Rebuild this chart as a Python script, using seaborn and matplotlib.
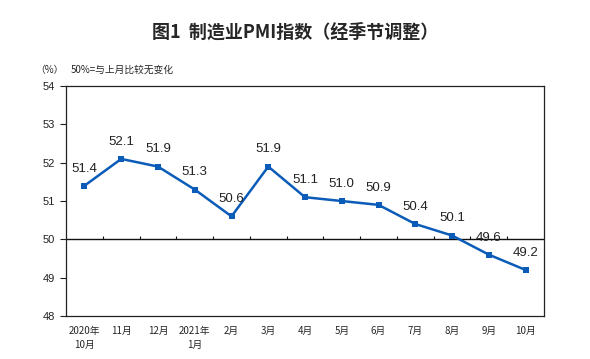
import pandas as pd
import matplotlib.pyplot as plt
import seaborn as sns

# PMI data (seasonally adjusted)
months = ['2020年\n10月', '11月', '12月', '2021年\n1月', '2月', '3月', '4月',
          '5月', '6月', '7月', '8月', '9月', '10月']
pmi = [51.4, 52.1, 51.9, 51.3, 50.6, 51.9, 51.1, 51.0, 50.9, 50.4, 50.1, 49.6, 49.2]

df = pd.DataFrame({'pos': range(len(months)), 'pmi': pmi})

sns.set_style('white')
plt.rcParams['font.family'] = ['Noto Sans CJK SC', 'DejaVu Sans']

fig = plt.figure(figsize=(5.9, 3.59), dpi=100)
ax = fig.add_axes([0.112, 0.12, 0.81, 0.64])

line_color = '#0b5cb8'
sns.lineplot(data=df, x='pos', y='pmi', ax=ax, color=line_color, linewidth=1.8,
             marker='s', markersize=4.5, markeredgewidth=0, markerfacecolor=line_color)

# value labels
for i, v in enumerate(pmi):
    ax.annotate(f'{v:.1f}', (i, v), xytext=(0, 8), textcoords='offset points',
                ha='center', va='bottom', fontsize=9.5, family='Liberation Sans',
                color='#222222')

ax.set_xlim(-0.5, len(months) - 0.5)
ax.set_ylim(48, 54)
ax.set_yticks(range(48, 55))
ax.set_yticklabels([str(t) for t in range(48, 55)], family='Liberation Sans', fontsize=8)
ax.set_xticks(range(len(months)))
ax.set_xticklabels(months, fontsize=7, linespacing=1.5)
ax.tick_params(axis='x', length=0, pad=7)
ax.tick_params(axis='y', length=4, width=0.8, direction='out', left=True, pad=4,
               colors='#222222')
ax.set_xlabel('')
ax.set_ylabel('')

for s in ax.spines.values():
    s.set_color('#222222')
    s.set_linewidth(0.9)

# 50 line with short upward ticks between months
ax.axhline(50, color='#111111', linewidth=1.0, zorder=1)
bounds = [i + 0.5 for i in range(len(months) - 1)]
ax.vlines(bounds, 50, 50.1, color='#111111', linewidth=0.8, zorder=1)

fig.text(0.5, 0.91, '图1  制造业PMI指数（经季节调整）', ha='center', va='center',
         fontsize=13, fontweight='semibold')
fig.text(0.06, 0.805, '（%）', ha='left', va='center', fontsize=7)
fig.text(0.12, 0.805, '50%=与上月比较无变化', ha='left', va='center', fontsize=7)

plt.savefig('out.png', dpi=100)
plt.close()
